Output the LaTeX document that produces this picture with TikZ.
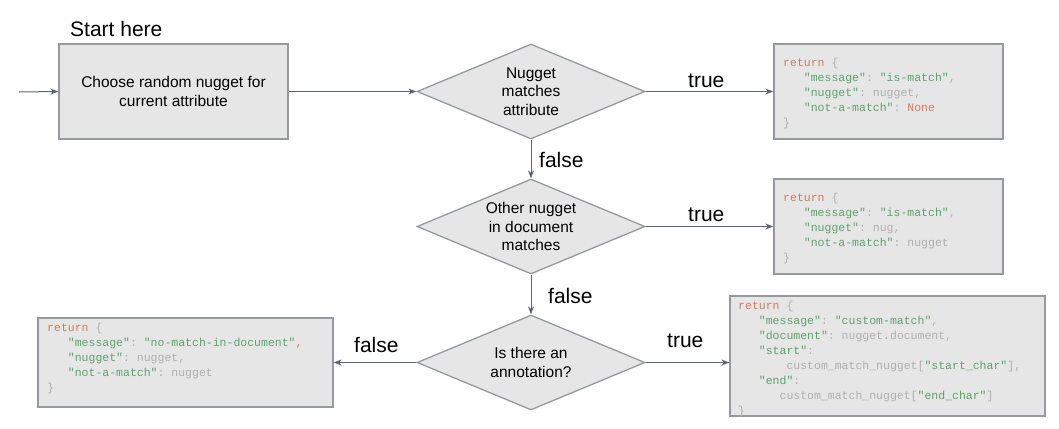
\documentclass[tikz,border=0pt]{standalone}
\usepackage{fontspec}
\setmainfont{Liberation Sans}
\setmonofont{Liberation Mono}
\usetikzlibrary{shapes.geometric,arrows.meta,calc}
\definecolor{boxfill}{RGB}{230,230,230}
\definecolor{boxline}{RGB}{150,153,158}
\definecolor{arrowc}{RGB}{90,100,115}
\definecolor{kwc}{RGB}{205,125,95}
\definecolor{strc}{RGB}{95,162,108}
\definecolor{grc}{RGB}{175,175,175}
\newcommand{\kw}[1]{\textcolor{kwc}{#1}}
\newcommand{\st}[1]{\textcolor{strc}{#1}}
\newcommand{\gr}[1]{\textcolor{grc}{#1}}
\newcommand{\ind}[1]{\hspace*{#1\fontcharwd\font`x}}
\begin{document}
\begin{tikzpicture}[x=1pt,y=-1pt,
  procbox/.style={draw=boxline,line width=1.3pt,fill=boxfill,rectangle,inner sep=0pt,
    font=\fontsize{15.5}{19}\selectfont,align=center},
  decision/.style={draw=boxline,line width=1.3pt,fill=boxfill,diamond,aspect=2.4,inner sep=0pt,
    minimum width=228pt,minimum height=95pt,font=\fontsize{15.5}{18.5}\selectfont,align=center},
  codebox/.style={draw=boxline,line width=1.3pt,fill=boxfill,rectangle,inner sep=0pt},
  codetext/.style={anchor=north west,inner sep=0pt,align=left,
    font=\fontsize{11.5}{15}\ttfamily},
  lbl/.style={anchor=base west,inner sep=0pt,font=\fontsize{21}{24}\selectfont},
  conn/.style={draw=arrowc,line width=1pt,-{Stealth[length=8pt,width=6pt]}}
]
\useasboundingbox (0,0) rectangle (1059,428);

% start
\node[lbl] (starthere) at (70,37) {Start here};
\node[procbox,minimum width=229pt,minimum height=95pt] (choose) at (173.5,91.5)
  {Choose random nugget for\\current attribute};
\coordinate (in0) at (19,92);

% decisions
\node[decision] (d1) at (531,91.5) {Nugget\\matches\\attribute};
\node[decision] (d2) at (531,226.5) {Other nugget\\in document\\matches};
\node[decision] (d3) at (531,362.5) {Is there an\\annotation?};

% code boxes
\node[codebox,minimum width=229pt,minimum height=95pt] (r1) at (888.5,91.5) {};
\node[codebox,minimum width=229pt,minimum height=95pt] (r2) at (888.5,226.5) {};
\node[codebox,minimum width=315pt,minimum height=120pt] (r3) at (887.5,356) {};
\node[codebox,minimum width=295pt,minimum height=89pt] (r4) at (185.5,362.5) {};

\node[codetext] (t1) at (783,56.5) {\rule{0pt}{10pt}\kw{return} \gr{\{}\\
\ind{3}\st{"message"}\gr{:} \st{"is-match"}\gr{,}\\
\ind{3}\st{"nugget"}\gr{: nugget,}\\
\ind{3}\st{"not-a-match"}\gr{:} \kw{None}\\
\gr{\}}};

\node[codetext] (t2) at (783,191) {\rule{0pt}{10pt}\kw{return} \gr{\{}\\
\ind{3}\st{"message"}\gr{:} \st{"is-match"}\gr{,}\\
\ind{3}\st{"nugget"}\gr{: nug,}\\
\ind{3}\st{"not-a-match"}\gr{: nugget}\\
\gr{\}}};

\node[codetext] (t3) at (738,299) {\rule{0pt}{10pt}\kw{return} \gr{\{}\\
\ind{3}\st{"message"}\gr{:} \st{"custom-match"}\gr{,}\\
\ind{3}\st{"document"}\gr{: nugget.document,}\\
\ind{3}\st{"start"}\gr{:}\\
\ind{7}\gr{custom\_match\_nugget[}\st{"start\_char"}\gr{],}\\
\ind{3}\st{"end"}\gr{:}\\
\ind{6}\gr{custom\_match\_nugget[}\st{"end\_char"}\gr{]}\\
\gr{\}}};

\node[codetext] (t4) at (47,321.5) {\rule{0pt}{10pt}\kw{return} \gr{\{}\\
\ind{3}\st{"message"}\gr{:} \st{"no-match-in-document"}\kw{,}\\
\ind{3}\st{"nugget"}\gr{: nugget,}\\
\ind{3}\st{"not-a-match"}\gr{: nugget}\\
\gr{\}}};

% connectors
\draw[conn] (in0) -- (choose.west);
\draw[conn] (choose.east) -- (d1.west);
\draw[conn] (d1.east) -- (r1.west);
\draw[conn] (d1.south) -- (d2.north);
\draw[conn] (d2.east) -- (d2.east -| r2.west);
\draw[conn] (d2.south) -- (d3.north);
\draw[conn] (d3.east) -- (d3.east -| r3.west);
\draw[conn] (d3.west) -- (d3.west -| r4.east);

% labels
\node[lbl] (true1) at (688,87) {true};
\node[lbl] (true2) at (688,221) {true};
\node[lbl] (true3) at (667,347) {true};
\node[lbl] (false1) at (539,167) {false};
\node[lbl] (false2) at (548,303) {false};
\node[lbl] (false3) at (354,352) {false};
\end{tikzpicture}
\end{document}
